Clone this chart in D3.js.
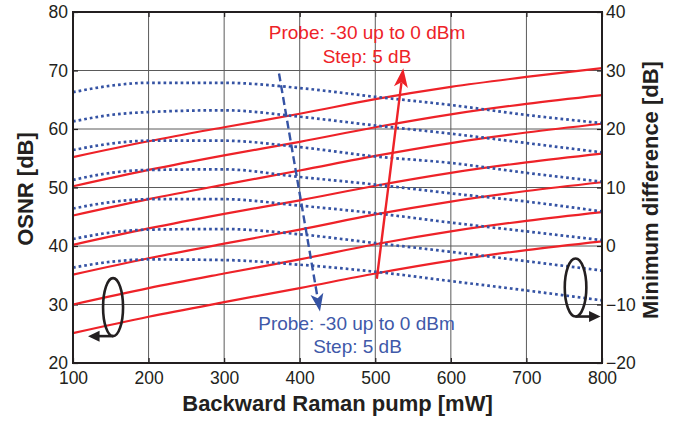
<!DOCTYPE html>
<html>
<head>
<meta charset="utf-8">
<script src="https://cdn.jsdelivr.net/npm/d3@7"></script>
<style>
  body { margin: 0; background: #fff; }
  svg { display: block; font-family: Arial, "Liberation Sans", Helvetica, sans-serif; }
</style>
</head>
<body>
<svg id="chart" width="683" height="421"></svg>
<script>
// Axis ticks
const pumpTicks = [100, 200, 300, 400, 500, 600, 700, 800];
const osnrTicks = [20, 30, 40, 50, 60, 70, 80];
const diffTicks = [-20, -10, 0, 10, 20, 30, 40];

// OSNR [dB] vs backward Raman pump [mW], one curve per probe power (left axis)
const pumpOsnr = [100, 200, 300, 400, 500, 600, 700, 800];
const osnrProbeM30 = [25.1, 27.9, 30.4, 32.8, 35.3, 37.5, 39.3, 40.8];
const osnrProbeM25 = [30.0, 32.8, 35.3, 37.7, 40.3, 42.5, 44.3, 45.8];
const osnrProbeM20 = [35.1, 37.9, 40.4, 42.8, 45.4, 47.6, 49.4, 50.9];
const osnrProbeM15 = [40.2, 43.0, 45.5, 47.8, 50.3, 52.5, 54.3, 55.8];
const osnrProbeM10 = [45.2, 48.0, 50.5, 52.9, 55.4, 57.6, 59.4, 60.9];
const osnrProbeM5  = [50.2, 53.0, 55.5, 57.8, 60.3, 62.5, 64.3, 65.8];
const osnrProbe0   = [55.2, 57.9, 60.3, 62.6, 65.1, 67.2, 68.9, 70.4];

// Minimum difference [dB] vs pump, one curve per probe power (right axis)
const pumpDiff = [100, 150, 200, 300, 400, 500, 600, 700, 800];
const diffProbeM30 = [26.3, 27.4, 27.9, 27.9, 27.0, 25.5, 24.1, 22.4, 21.0];
const diffProbeM25 = [21.3, 22.4, 22.9, 23.2, 22.1, 20.6, 19.2, 17.6, 16.0];
const diffProbeM20 = [16.4, 17.5, 18.0, 18.0, 16.9, 15.3, 14.2, 12.5, 11.0];
const diffProbeM15 = [11.3, 12.5, 13.0, 13.1, 11.8, 10.5, 9.0, 7.6, 5.9];
const diffProbeM10 = [6.4, 7.5, 8.0, 8.0, 6.9, 5.6, 4.0, 2.5, 1.0];
const diffProbeM5  = [1.2, 2.3, 2.8, 2.9, 2.0, 0.5, -1.0, -2.6, -4.2];
const diffProbe0   = [-3.7, -2.7, -2.3, -2.4, -3.2, -4.4, -6.0, -7.6, -9.3];

const osnrSeries = [osnrProbeM30, osnrProbeM25, osnrProbeM20, osnrProbeM15, osnrProbeM10, osnrProbeM5, osnrProbe0];
const diffSeries = [diffProbeM30, diffProbeM25, diffProbeM20, diffProbeM15, diffProbeM10, diffProbeM5, diffProbe0];

const probeNote = ["Probe: -30 up to 0 dBm", "Step: 5 dB"];

const RED = "#ee2228";
const BLUE = "#3553a4";
const INK = "#231f20";

const svg = d3.select("#chart");
const m = { top: 12, right: 81, bottom: 58, left: 73 };
const W = 683 - m.left - m.right;
const H = 421 - m.top - m.bottom;

const x = d3.scaleLinear().domain([100, 800]).range([0, W]);
const yL = d3.scaleLinear().domain([20, 80]).range([H, 0]);
const yR = d3.scaleLinear().domain([-20, 40]).range([H, 0]);

svg.append("rect").attr("width", 683).attr("height", 421).attr("fill", "#fff");
const g = svg.append("g").attr("transform", `translate(${m.left},${m.top})`);

// grid
const grid = g.append("g").attr("stroke", "#5a5a5a").attr("stroke-width", 1);
grid.selectAll("line.v").data(pumpTicks.slice(1, -1)).join("line")
  .attr("x1", d => x(d)).attr("x2", d => x(d)).attr("y1", 0).attr("y2", H);
grid.selectAll("line.h").data(osnrTicks.slice(1, -1)).join("line")
  .attr("x1", 0).attr("x2", W).attr("y1", d => yL(d)).attr("y2", d => yL(d));

// inward ticks on all four sides
function styleAxis(sel) {
  sel.select(".domain").remove();
  sel.selectAll(".tick line").attr("stroke", INK).attr("stroke-width", 1.2);
  sel.selectAll(".tick text").attr("fill", INK).attr("font-size", 17.5);
}
g.append("g").attr("transform", `translate(0,${H})`)
  .call(d3.axisBottom(x).tickValues(pumpTicks).tickSize(-5).tickPadding(9)).call(styleAxis);
g.append("g")
  .call(d3.axisTop(x).tickValues(pumpTicks).tickSize(-5).tickFormat("")).call(styleAxis);
g.append("g")
  .call(d3.axisLeft(yL).tickValues(osnrTicks).tickSize(-5).tickPadding(5)).call(styleAxis);
g.append("g").attr("transform", `translate(${W},0)`)
  .call(d3.axisRight(yR).tickValues(diffTicks).tickSize(-5).tickPadding(4).tickFormat(d3.format("d"))).call(styleAxis);

// OSNR curves (solid red)
const lineL = d3.line().x((d, i) => x(pumpOsnr[i])).y(d => yL(d)).curve(d3.curveMonotoneX);
g.append("g").selectAll("path").data(osnrSeries).join("path")
  .attr("d", lineL).attr("fill", "none").attr("stroke", RED).attr("stroke-width", 2.2);

// minimum-difference curves (dotted blue)
const lineR = d3.line().x((d, i) => x(pumpDiff[i])).y(d => yR(d)).curve(d3.curveMonotoneX);
g.append("g").selectAll("path").data(diffSeries).join("path")
  .attr("d", lineR).attr("fill", "none").attr("stroke", BLUE)
  .attr("stroke-width", 2.7).attr("stroke-dasharray", "2.7,3");

// frame
g.append("rect").attr("width", W).attr("height", H)
  .attr("fill", "none").attr("stroke", INK).attr("stroke-width", 2);

// arrow helper: shaft from p0 to p1 with a notched head at p1
function arrow(p0, p1, color, width, dash, len, half) {
  const ang = Math.atan2(p1[1] - p0[1], p1[0] - p0[0]);
  const ux = Math.cos(ang), uy = Math.sin(ang);
  const bx = p1[0] - ux * len, by = p1[1] - uy * len;
  const nx = p1[0] - ux * len * 0.75, ny = p1[1] - uy * len * 0.75;
  g.append("line")
    .attr("x1", p0[0]).attr("y1", p0[1]).attr("x2", nx).attr("y2", ny)
    .attr("stroke", color).attr("stroke-width", width)
    .attr("stroke-dasharray", dash || null);
  g.append("path")
    .attr("d", `M${p1[0]},${p1[1]} L${bx - uy * half},${by + ux * half} L${nx},${ny} L${bx + uy * half},${by - ux * half} Z`)
    .attr("fill", color);
}

// red arrow: increasing probe power raises OSNR
arrow([x(502), yL(34.4)], [x(537), yL(70.4)], RED, 2.4, null, 19, 7);
// blue arrow: increasing probe power lowers the minimum difference
arrow([x(372.6), yL(69.5)], [x(426.8), yL(28.8)], BLUE, 2.4, "8,4", 18, 6.5);

// notes
const noteRed = g.append("text").attr("fill", RED).attr("font-size", 19).attr("text-anchor", "middle");
noteRed.append("tspan").attr("x", 367 - m.left).attr("y", 39 - m.top).text(probeNote[0]);
noteRed.append("tspan").attr("x", 367 - m.left).attr("y", 62.7 - m.top).text(probeNote[1]);

const noteBlue = g.append("text").attr("fill", "#4059a9").attr("font-size", 19).attr("text-anchor", "middle");
noteBlue.append("tspan").attr("x", 356.5 - m.left).attr("y", 330 - m.top).text(probeNote[0]);
noteBlue.append("tspan").attr("x", 357.5 - m.left).attr("y", 352.7 - m.top).text(probeNote[1]);

// axis-assignment markers: ellipse with an arrow pointing to its axis
function marker(cx, cy, rx, ry, dir) {
  g.append("ellipse").attr("cx", cx).attr("cy", cy).attr("rx", rx).attr("ry", ry)
    .attr("fill", "none").attr("stroke", INK).attr("stroke-width", 2.6);
  const y0 = cy + ry;
  const tipX = cx + dir * 25;
  const baseX = tipX - dir * 11.5;
  g.append("line").attr("x1", cx).attr("y1", y0).attr("x2", baseX + dir * 2).attr("y2", y0)
    .attr("stroke", INK).attr("stroke-width", 2.6);
  g.append("path")
    .attr("d", `M${tipX},${y0} L${baseX},${y0 - 5.5} L${baseX},${y0 + 5.5} Z`)
    .attr("fill", INK);
}
marker(x(153), yL(29.55), 10, 29, -1);
marker(x(765), yL(32.9), 10.8, 29, 1);

// axis titles
svg.append("text").attr("transform", `translate(${m.left + W / 2},411)`)
  .attr("text-anchor", "middle").attr("font-size", 22).attr("font-weight", "bold").attr("fill", INK)
  .text("Backward Raman pump [mW]");
svg.append("text").attr("transform", `translate(33,${m.top + H / 2 + 1.5}) rotate(-90)`)
  .attr("text-anchor", "middle").attr("font-size", 22).attr("font-weight", "bold").attr("fill", INK)
  .text("OSNR [dB]");
svg.append("text").attr("transform", `translate(658,${m.top + H / 2 + 2.5}) rotate(-90)`)
  .attr("text-anchor", "middle").attr("font-size", 22).attr("font-weight", "bold").attr("fill", INK)
  .text("Minimum difference [dB]");
</script>
</body>
</html>
